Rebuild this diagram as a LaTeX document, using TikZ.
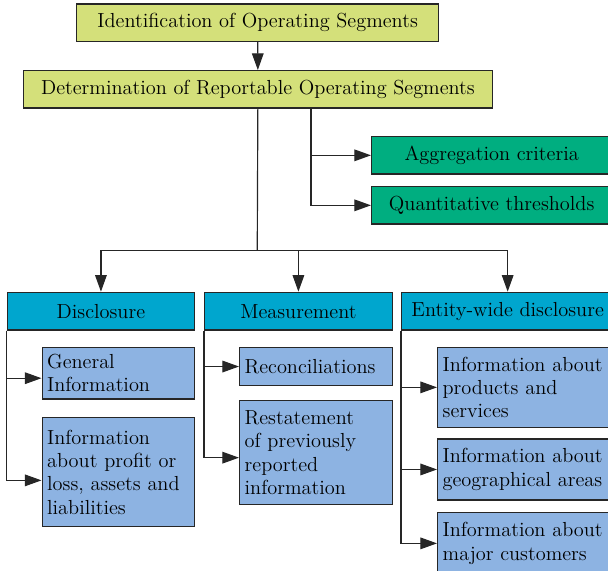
\documentclass[tikz,border=0pt]{standalone}
\usetikzlibrary{arrows.meta}

\definecolor{topgreen}{HTML}{D4E07A}
\definecolor{sidegreen}{HTML}{00AE80}
\definecolor{headblue}{HTML}{00A6CE}
\definecolor{itemblue}{HTML}{8DB3E2}

\tikzstyle{arrow} = [-{Triangle[length=10pt,width=7pt]}, line width=0.7pt, draw=black!85]
\tikzstyle{line} = [line width=0.7pt, draw=black!85]
\tikzstyle{box} = [draw=black!85, line width=0.8pt, inner sep=0pt, anchor=north west, font=\fontsize{12.2}{14}\selectfont]
\tikzstyle{topbox} = [box, fill=topgreen, minimum height=22.4pt]
\tikzstyle{sidebox} = [box, fill=sidegreen, minimum width=144pt, minimum height=22.4pt]
\tikzstyle{headbox} = [box, fill=headblue, minimum height=22.6pt]
\tikzstyle{itembox} = [box, fill=itemblue, inner xsep=3pt, align=left]

\begin{document}
\begin{tikzpicture}[x=0.6pt, y=-0.6pt]
\useasboundingbox (0,0) rectangle (608,571);

% Nodes
\node (ident) [topbox, minimum width=217.2pt] at (76,3.3) {Identification of Operating Segments};
\node (determ) [topbox, minimum width=281.1pt] at (23,70) {Determination of Reportable Operating Segments};
\node (aggr) [sidebox] at (371,136) {Aggregation criteria};
\node (quant) [sidebox] at (371,186) {Quantitative thresholds};

\node (disc) [headbox, minimum width=112.4pt] at (6.6,291.7) {Disclosure};
\node (meas) [headbox, minimum width=112.5pt] at (204,291.7) {Measurement};
\node (entity) [headbox, minimum width=127.2pt] at (401,291.7) {Entity-wide disclosure};

\node (gen) [itembox, text width=85.5pt, minimum height=31pt] at (41.5,346.7) {General\\Information};
\node (profit) [itembox, text width=85.5pt, minimum height=65.6pt] at (41.5,416.7) {Information\\about profit or\\loss, assets and\\liabilities};
\node (recon) [itembox, text width=85.5pt, minimum height=23pt] at (239,346.7) {Reconciliations};
\node (restate) [itembox, text width=85.5pt, minimum height=62.4pt] at (239,400) {Restatement\\of previously\\reported\\information};
\node (prod) [itembox, text width=99pt, minimum height=48pt] at (437,346.7) {Information about\\products and\\services};
\node (geo) [itembox, text width=99pt, minimum height=36.6pt] at (437,438.3) {Information about\\geographical areas};
\node (cust) [itembox, text width=99pt, minimum height=37.2pt] at (437,511.7) {Information about\\major customers};

\coordinate (split) at (257.25,250.7);
\coordinate (branch) at (311,107.3);

% Arrows
\draw [arrow] (ident) -- (determ);
\draw [line] (determ) -- (split);
\draw [arrow] (split) -| (disc);
\draw [arrow] (split) -| (meas);
\draw [arrow] (split) -| (entity);
\draw [arrow] (branch) |- (aggr);
\draw [arrow] (branch) |- (quant);

\draw [arrow] (disc.south west) |- ([yshift=-3pt]gen.west);
\draw [arrow] (disc.south west) |- ([yshift=-5pt]profit.west);
\draw [arrow] (meas.south west) |- (recon);
\draw [arrow] (meas.south west) |- ([yshift=-3pt]restate.west);
\draw [arrow] (entity.south west) |- (prod);
\draw [arrow] (entity.south west) |- (geo);
\draw [arrow] (entity.south west) |- (cust);

\end{tikzpicture}
\end{document}
